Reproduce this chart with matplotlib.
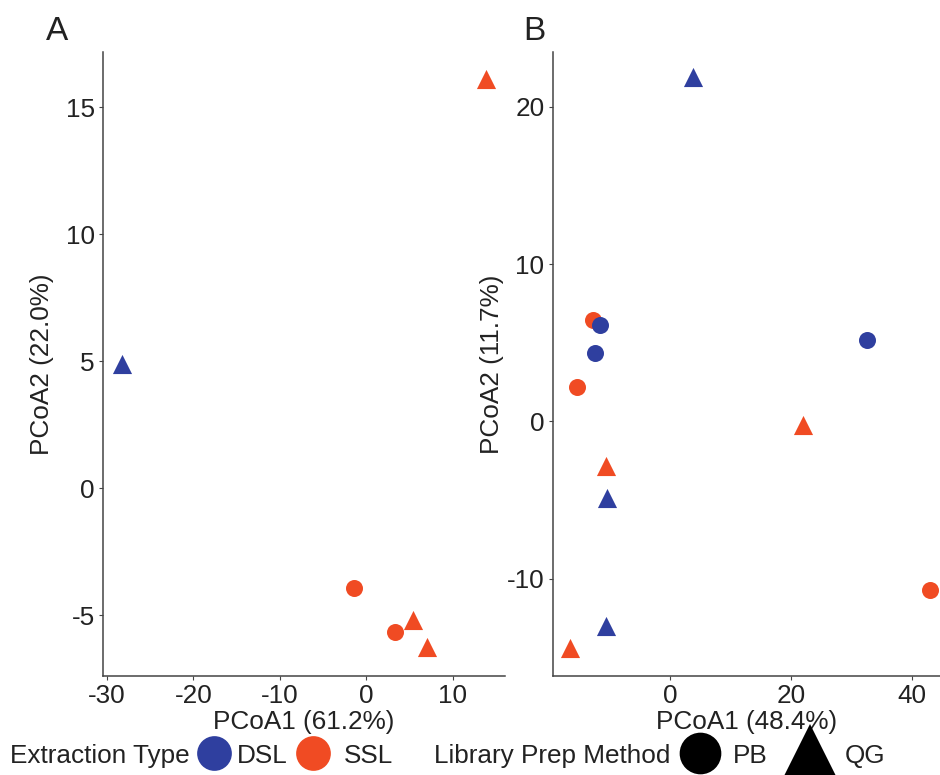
import matplotlib
matplotlib.use('Agg')
import matplotlib.pyplot as plt
from matplotlib.lines import Line2D

plt.rcParams['font.family'] = ['Liberation Sans', 'DejaVu Sans']
plt.rcParams['axes.unicode_minus'] = False

# Panel A data
a_x = [-28.3, 13.8, -1.4, 3.35, 5.4, 6.97]
a_y = [4.9, 16.1, -3.92, -5.68, -5.2, -6.25]
a_type = ['DSL', 'SSL', 'SSL', 'SSL', 'SSL', 'SSL']
a_prep = ['QG', 'QG', 'PB', 'PB', 'QG', 'QG']

# Panel B data
b_x = [3.75, -12.7, -11.6, -12.4, -15.4, 32.5, 21.9, -10.6, -10.4, -10.6, -16.5, 43.0]
b_y = [21.9, 6.45, 6.13, 4.37, 2.2, 5.18, -0.21, -2.87, -4.9, -13.0, -14.4, -10.75]
b_type = ['DSL', 'SSL', 'DSL', 'DSL', 'SSL', 'DSL', 'SSL', 'SSL', 'DSL', 'DSL', 'SSL', 'SSL']
b_prep = ['QG', 'PB', 'PB', 'PB', 'PB', 'PB', 'QG', 'QG', 'QG', 'QG', 'QG', 'PB']

colors = {'DSL': '#2f3f9f', 'SSL': '#f04b23'}
markers = {'PB': 'o', 'QG': '^'}
sizes = {'PB': 150, 'QG': 190}
FS = 18.8
txt = '#222222'

fig = plt.figure(figsize=(9.4, 7.75), dpi=100)
axA = fig.add_axes([0.1096, 0.1277, 0.4274, 0.8053])
axB = fig.add_axes([0.588, 0.1277, 0.412, 0.8053])


def draw(ax, xs, ys, types, preps):
    for x, y, t, p in zip(xs, ys, types, preps):
        ax.scatter(x, y, color=colors[t], marker=markers[p], s=sizes[p],
                   linewidths=0, zorder=3)
    for side in ['top', 'right']:
        ax.spines[side].set_visible(False)
    for side in ['left', 'bottom']:
        ax.spines[side].set_color('#444444')
        ax.spines[side].set_linewidth(1.1)
    ax.tick_params(labelsize=FS, length=3, width=0.8, color='#444444',
                   labelcolor=txt, pad=3)


draw(axA, a_x, a_y, a_type, a_prep)
axA.set_xlim(-30.46, 16.0)
axA.set_ylim(-7.4, 17.17)
axA.set_xticks([-30, -20, -10, 0, 10])
axA.set_yticks([-5, 0, 5, 10, 15])
axA.set_xlabel('PCoA1 (61.2%)', fontsize=FS, color=txt, labelpad=1)
axA.set_ylabel('PCoA2 (22.0%)', fontsize=FS, color=txt, labelpad=8)

draw(axB, b_x, b_y, b_type, b_prep)
axB.set_xlim(-19.4, 44.6)
axB.set_ylim(-16.2, 23.5)
axB.set_xticks([0, 20, 40])
axB.set_yticks([-10, 0, 10, 20])
axB.set_xlabel('PCoA1 (48.4%)', fontsize=FS, color=txt, labelpad=1)
axB.set_ylabel('PCoA2 (11.7%)', fontsize=FS, color=txt, labelpad=2)

fig.text(0.049, 0.949, 'A', fontsize=24, color=txt, va='baseline')
fig.text(0.557, 0.949, 'B', fontsize=24, color=txt, va='baseline')

# legends: one entry each so the keys sit where the reference has them
px = FS * 100 / 72  # font size in pixels
W = 940.0
LY = 0.025


def key(x_center, x_text, handle, hl=1.2):
    x0 = x_center - hl * px / 2
    pad = (x_text - (x0 + hl * px)) / px
    fig.legend(handles=[handle], loc='center left', bbox_to_anchor=(x0 / W, LY),
               frameon=False, fontsize=FS, handlelength=hl, handletextpad=pad,
               borderpad=0, borderaxespad=0, labelcolor=txt)


fig.text(0.011, LY, 'Extraction Type', fontsize=FS, color=txt, va='center')
key(214, 237, Line2D([], [], ls='none', marker='o', markersize=25,
                     markeredgewidth=0, color=colors['DSL'], label='DSL'))
key(313, 344, Line2D([], [], ls='none', marker='o', markersize=25,
                     markeredgewidth=0, color=colors['SSL'], label='SSL'))

fig.text(0.462, LY, 'Library Prep Method', fontsize=FS, color=txt, va='center')
key(700, 733, Line2D([], [], ls='none', marker='o', markersize=30,
                     markeredgewidth=0, color='black', label='PB'))
key(810, 845, Line2D([], [], ls='none', marker='^', markersize=42,
                     markeredgewidth=0, color='black', label='QG'))

fig.savefig('out.png', dpi=100)
